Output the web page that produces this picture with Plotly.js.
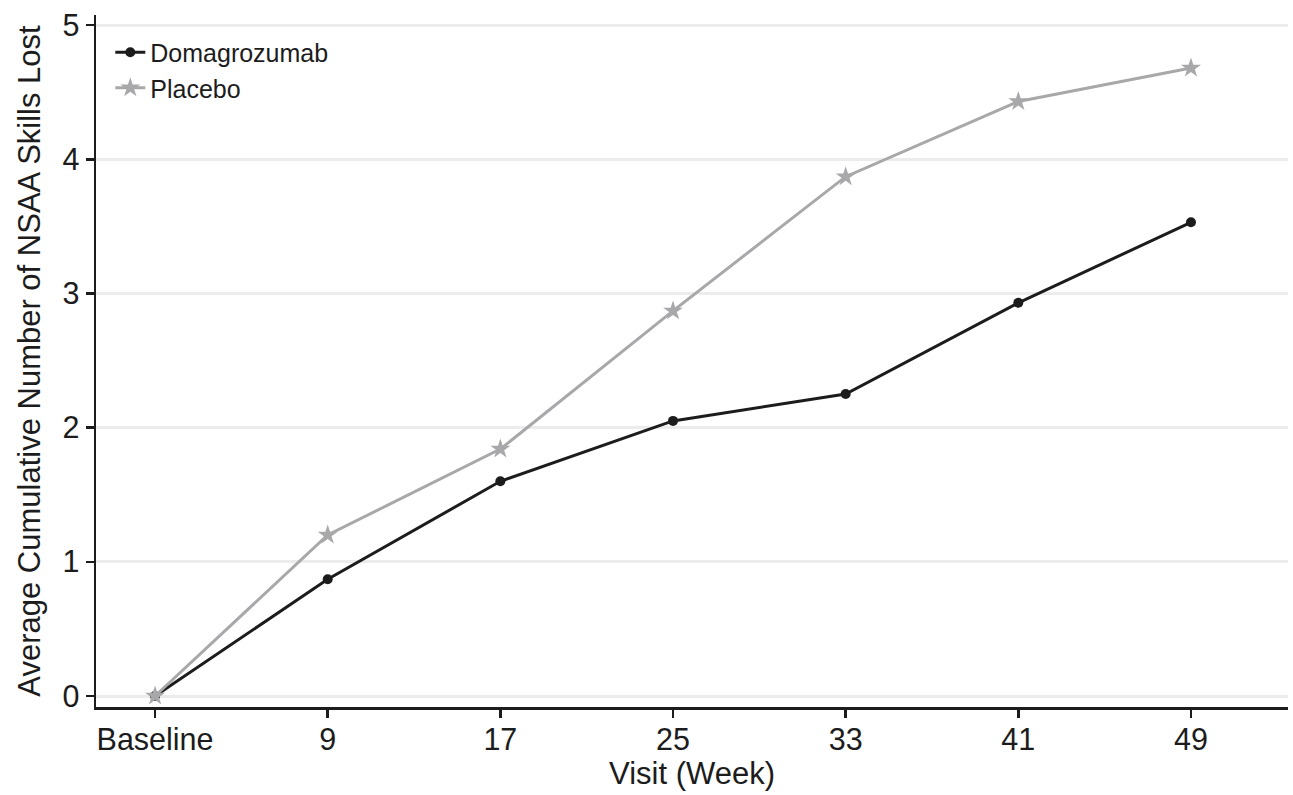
<!DOCTYPE html>
<html>
<head>
<meta charset="utf-8">
<script src="https://cdn.plot.ly/plotly-3.0.1.min.js"></script>
<style>
html,body{margin:0;padding:0;background:#fff;}
#chart{width:1293px;height:795px;}
</style>
</head>
<body>
<div id="chart"></div>
<script>
var visits = ["Baseline", "9", "17", "25", "33", "41", "49"];
var domagrozumab = [0, 0.87, 1.60, 2.05, 2.25, 2.93, 3.53];
var placebo = [0, 1.20, 1.84, 2.87, 3.87, 4.43, 4.68];
var seriesNames = ["Domagrozumab", "Placebo"];
var yTicks = [0, 1, 2, 3, 4, 5];
var xTitle = "Visit (Week)";
var yTitle = "Average Cumulative Number of NSAA Skills Lost";

var idx = visits.map(function(v, i){ return i; });

var traces = [
  {
    x: idx, y: domagrozumab, name: seriesNames[0], type: "scatter", mode: "lines+markers",
    line: {color: "#1c1c1c", width: 3},
    marker: {symbol: "circle", size: 10, color: "#1c1c1c"}
  },
  {
    x: idx, y: placebo, name: seriesNames[1], type: "scatter", mode: "lines+markers",
    line: {color: "#a8a8aa", width: 3},
    marker: {symbol: "star", size: 15, color: "#a8a8aa"}
  }
];

var font = {family: "Liberation Sans, Arial, sans-serif", color: "#1c1c1c"};

var layout = {
  width: 1293, height: 795,
  margin: {l: 96, r: 5, t: 15, b: 88},
  paper_bgcolor: "#fff", plot_bgcolor: "#fff",
  font: {family: font.family, color: font.color, size: 30},
  showlegend: true,
  legend: {
    x: 0.012, y: 0.979, xanchor: "left", yanchor: "top",
    font: {family: font.family, color: font.color, size: 25},
    bgcolor: "rgba(0,0,0,0)", tracegroupgap: 0, itemwidth: 30
  },
  xaxis: {
    range: [-0.342, 6.562],
    tickmode: "array", tickvals: idx, ticktext: visits,
    showline: true, linecolor: "#1c1c1c", linewidth: 2.5,
    ticks: "outside", ticklen: 8, tickwidth: 2.5, tickcolor: "#1c1c1c",
    ticklabelstandoff: -4,
    showgrid: false, zeroline: false,
    tickfont: {size: 30.5, family: font.family, color: font.color},
    title: {text: xTitle, font: {size: 31, family: font.family, color: font.color}, standoff: 2}
  },
  yaxis: {
    range: [-0.082, 5.075],
    tickmode: "array", tickvals: yTicks,
    showline: true, linecolor: "#1c1c1c", linewidth: 2.5,
    ticks: "outside", ticklen: 8, tickwidth: 2.5, tickcolor: "#1c1c1c",
    showgrid: true, gridcolor: "#ececec", gridwidth: 3,
    zeroline: false,
    tickfont: {size: 30.5, family: font.family, color: font.color},
    title: {text: yTitle, font: {size: 31, family: font.family, color: font.color}, standoff: 13}
  }
};

Plotly.newPlot("chart", traces, layout, {displayModeBar: false, staticPlot: true});
</script>
</body>
</html>
